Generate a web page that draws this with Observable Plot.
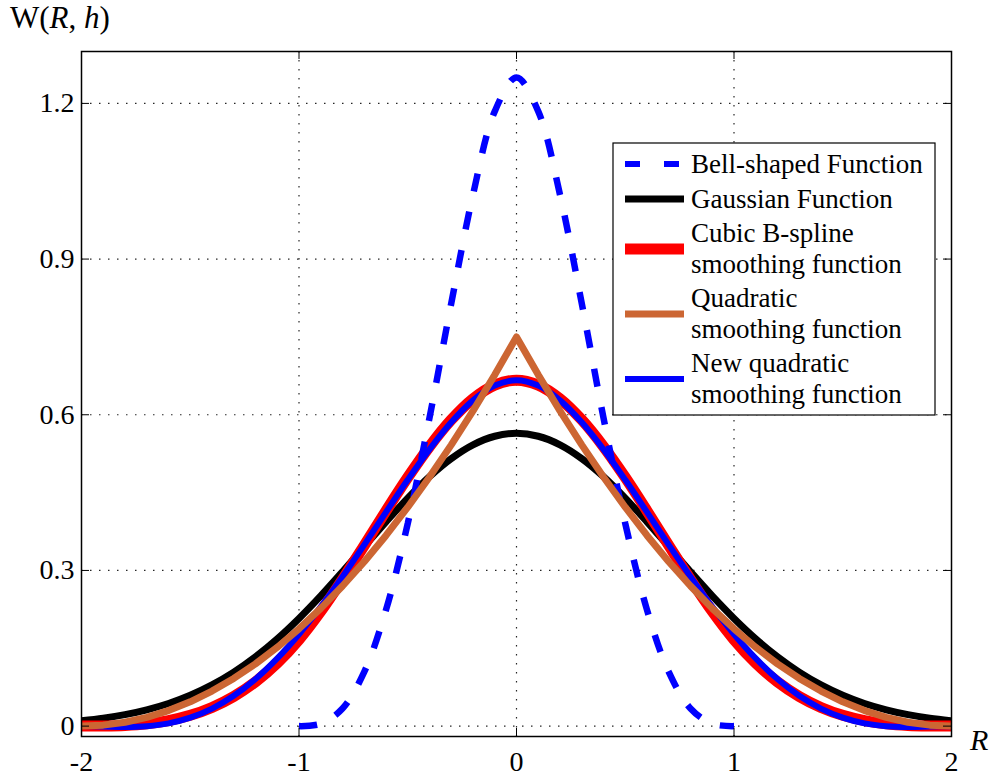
<!DOCTYPE html>
<html>
<head>
<meta charset="utf-8">
<script src="https://cdn.jsdelivr.net/npm/d3@7"></script>
<script src="https://cdn.jsdelivr.net/npm/@observablehq/plot@0.6"></script>
<style>
  html, body { margin: 0; padding: 0; background: #fff; }
  #chart { width: 994px; height: 776px; }
  svg text { font-family: 'Liberation Serif', 'Times New Roman', serif; }
</style>
</head>
<body>
<div id="chart"></div>
<script>
// ---------- data ----------
const R = [-2.0,-1.9,-1.8,-1.7,-1.6,-1.5,-1.4,-1.3,-1.2,-1.1,-1.0,-0.9,-0.8,-0.7,-0.6,-0.5,-0.4,-0.3,-0.2,-0.1,0.0,
           0.1,0.2,0.3,0.4,0.5,0.6,0.7,0.8,0.9,1.0,1.1,1.2,1.3,1.4,1.5,1.6,1.7,1.8,1.9,2.0];
const gaussian = [0.0103,0.0153,0.0221,0.0314,0.0436,0.0595,0.0795,0.1041,0.1337,0.1682,0.2076,0.2510,0.2975,0.3456,0.3936,0.4394,0.4808,0.5156,0.5421,0.5586,0.5642,
                  0.5586,0.5421,0.5156,0.4808,0.4394,0.3936,0.3456,0.2975,0.2510,0.2076,0.1682,0.1337,0.1041,0.0795,0.0595,0.0436,0.0314,0.0221,0.0153,0.0103];
const cubicSpline = [0,0.0002,0.0013,0.0045,0.0107,0.0208,0.0360,0.0572,0.0853,0.1215,0.1667,0.2212,0.2827,0.3482,0.4147,0.4792,0.5387,0.5902,0.6307,0.6572,0.6667,
                     0.6572,0.6307,0.5902,0.5387,0.4792,0.4147,0.3482,0.2827,0.2212,0.1667,0.1215,0.0853,0.0572,0.0360,0.0208,0.0107,0.0045,0.0013,0.0002,0];
const quadratic = [0,0.0019,0.0075,0.0169,0.0300,0.0469,0.0675,0.0919,0.1200,0.1519,0.1875,0.2269,0.2700,0.3169,0.3675,0.4219,0.4800,0.5419,0.6075,0.6769,0.7500,
                   0.6769,0.6075,0.5419,0.4800,0.4219,0.3675,0.3169,0.2700,0.2269,0.1875,0.1519,0.1200,0.0919,0.0675,0.0469,0.0300,0.0169,0.0075,0.0019,0];
const newQuadratic = [0,-0.0008,-0.0016,-0.0001,0.0053,0.0163,0.0338,0.0584,0.0907,0.1304,0.1771,0.2300,0.2880,0.3494,0.4124,0.4746,0.5333,0.5855,0.6278,0.6562,0.6667,
                      0.6562,0.6278,0.5855,0.5333,0.4746,0.4124,0.3494,0.2880,0.2300,0.1771,0.1304,0.0907,0.0584,0.0338,0.0163,0.0053,-0.0001,-0.0016,-0.0008,0];
const bellR = [-1.0,-0.9,-0.8,-0.7,-0.6,-0.5,-0.4,-0.3,-0.2,-0.1,0.0,0.1,0.2,0.3,0.4,0.5,0.6,0.7,0.8,0.9,1.0];
const bellShaped = [0,0.0046,0.0340,0.1046,0.2240,0.3906,0.5940,0.8146,1.0240,1.1846,1.2500,
                    1.1846,1.0240,0.8146,0.5940,0.3906,0.2240,0.1046,0.0340,0.0046,0];

const xTicks = [-2, -1, 0, 1, 2];
const yTicks = [0, 0.3, 0.6, 0.9, 1.2];
const legendLabels = [
  ["Bell-shaped Function"],
  ["Gaussian Function"],
  ["Cubic B-spline", "smoothing function"],
  ["Quadratic", "smoothing function"],
  ["New quadratic", "smoothing function"]
];

// ---------- styling ----------
const W = 994, H = 776;
const mL = 81, mR = 43, mT = 51, mB = 40;
const innerW = W - mL - mR, innerH = H - mT - mB;
const tickLen = 8;
const C = {bell: "#0000ff", gauss: "#000000", cubic: "#ff0000", quad: "#cc6633", newq: "#0000ff"};
const fam = "'Liberation Serif', 'Times New Roman', serif";

const rows = (xs, ys) => xs.map((x, i) => ({x, y: ys[i]}));
const fmt = d => String(d);

const plot = Plot.plot({
  width: W, height: H,
  marginLeft: mL, marginRight: mR, marginTop: mT, marginBottom: mB,
  style: {fontFamily: fam, background: "#fff", color: "#000"},
  x: {domain: [-2, 2], axis: null},
  y: {domain: [-0.02, 1.3], axis: null},
  marks: [
    // dotted grid
    Plot.ruleX(xTicks.slice(1, -1), {stroke: "#000", strokeWidth: 1.2, strokeOpacity: 0.85, strokeDasharray: "1.5,7.5"}),
    Plot.ruleY(yTicks, {stroke: "#000", strokeWidth: 1.2, strokeOpacity: 0.85, strokeDasharray: "1.5,7.5"}),
    // curves
    Plot.line(rows(R, gaussian), {x: "x", y: "y", stroke: C.gauss, strokeWidth: 7, curve: "catmull-rom", clip: true}),
    Plot.line(rows(R, cubicSpline), {x: "x", y: "y", stroke: C.cubic, strokeWidth: 11, curve: "catmull-rom", clip: true}),
    Plot.line(rows(R, newQuadratic), {x: "x", y: "y", stroke: C.newq, strokeWidth: 6, curve: "catmull-rom", clip: true}),
    Plot.line(rows(bellR, bellShaped), {x: "x", y: "y", stroke: C.bell, strokeWidth: 6.5, curve: "catmull-rom",
      strokeDasharray: "18,21", strokeLinecap: "butt", strokeLinejoin: "miter", clip: true}),
    Plot.line(rows(R, quadratic), {x: "x", y: "y", stroke: C.quad, strokeWidth: 7, curve: "linear", clip: true}),
    // inward ticks on all four sides
    Plot.ruleX(xTicks, {stroke: "#000", strokeWidth: 1, insetTop: innerH - tickLen}),
    Plot.ruleX(xTicks, {stroke: "#000", strokeWidth: 1, insetBottom: innerH - tickLen}),
    Plot.ruleY(yTicks, {stroke: "#000", strokeWidth: 1, insetRight: innerW - tickLen}),
    Plot.ruleY(yTicks, {stroke: "#000", strokeWidth: 1, insetLeft: innerW - tickLen}),
    // tick labels
    Plot.text(xTicks, {x: d => d, text: fmt, frameAnchor: "bottom", lineAnchor: "top", dy: 15,
      textAnchor: "middle", fontSize: 28, fontFamily: fam, fill: "#000"}),
    Plot.text(yTicks, {y: d => d, text: fmt, frameAnchor: "left", textAnchor: "end", dx: -7,
      fontSize: 28, fontFamily: fam, fill: "#000"}),
    Plot.frame({stroke: "#000", strokeWidth: 1.5})
  ]
});

document.getElementById("chart").appendChild(plot);

// ---------- axis titles & legend ----------
const svg = d3.select(plot);

const yTitle = svg.append("text").attr("x", 10).attr("y", 28).attr("text-anchor", "start")
  .attr("font-size", 31).attr("font-family", fam).attr("fill", "#000");
yTitle.append("tspan").text("W(");
yTitle.append("tspan").attr("font-style", "italic").text("R");
yTitle.append("tspan").text(", ");
yTitle.append("tspan").attr("font-style", "italic").text("h");
yTitle.append("tspan").text(")");

svg.append("text").attr("x", 970).attr("y", 750).attr("text-anchor", "start")
  .attr("font-size", 30).attr("font-family", fam).attr("font-style", "italic").attr("fill", "#000").text("R");

const lg = svg.append("g").attr("text-anchor", "start");
lg.append("rect").attr("x", 613).attr("y", 143).attr("width", 322).attr("height", 272)
  .attr("fill", "#fff").attr("stroke", "#000").attr("stroke-width", 1.2);

const entries = [
  {color: C.bell, width: 6, dash: "15,24", lineY: 164, baselines: [173]},
  {color: C.gauss, width: 7, dash: null, lineY: 199, baselines: [208]},
  {color: C.cubic, width: 11, dash: null, lineY: 249, baselines: [242, 273]},
  {color: C.quad, width: 7, dash: null, lineY: 314, baselines: [307, 338]},
  {color: C.newq, width: 6, dash: null, lineY: 379, baselines: [372, 403]}
];
entries.forEach((e, i) => {
  const ln = lg.append("line").attr("x1", 625).attr("x2", 684).attr("y1", e.lineY).attr("y2", e.lineY)
    .attr("stroke", e.color).attr("stroke-width", e.width).attr("stroke-linecap", "butt");
  if (e.dash) ln.attr("stroke-dasharray", e.dash);
  legendLabels[i].forEach((t, j) => {
    lg.append("text").attr("x", 691).attr("y", e.baselines[j]).attr("text-anchor", "start")
      .attr("font-size", 27).attr("font-family", fam).attr("fill", "#000").text(t);
  });
});
</script>
</body>
</html>
